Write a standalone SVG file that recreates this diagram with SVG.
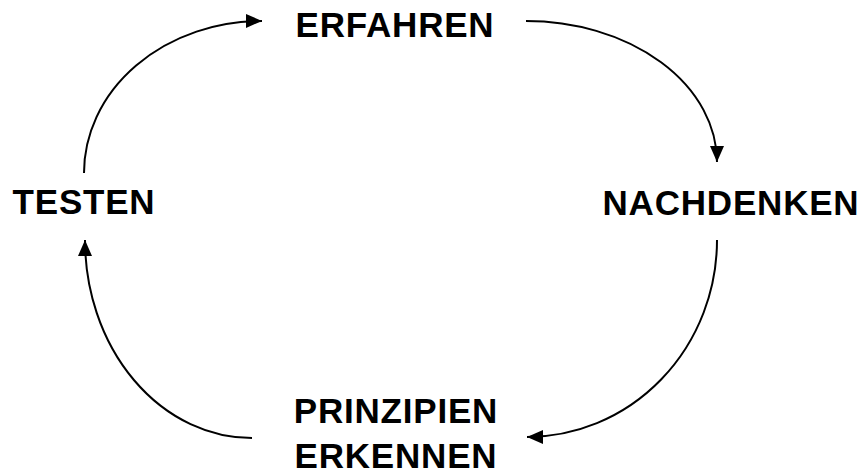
<svg xmlns="http://www.w3.org/2000/svg" width="864" height="474" viewBox="0 0 864 474">
  <style>
    .label { font-family: "Liberation Sans", Arial, sans-serif; font-weight: bold; font-size: 35px; fill: #000; text-anchor: middle; letter-spacing: 0.8px; }
    .arc { fill: none; stroke: #000; stroke-width: 2; }
  </style>
  <defs>
    <marker id="head" viewBox="0 0 16 14" refX="16" refY="7" markerWidth="16" markerHeight="14" markerUnits="userSpaceOnUse" orient="auto">
      <path d="M0,0 L16,7 L0,14 Z" fill="#000"/>
    </marker>
  </defs>
  <rect width="864" height="474" fill="#fff"/>

  <!-- cycle connectors -->
  <g id="connectors">
    <path class="arc" d="M84,173 A178,152 0 0 1 262,21" marker-end="url(#head)"/>
    <path class="arc" d="M526,21 A191,141 0 0 1 717,162" marker-end="url(#head)"/>
    <path class="arc" d="M717,240 A190,197 0 0 1 527,437" marker-end="url(#head)"/>
    <path class="arc" d="M252,438 A167,198 0 0 1 85,240" marker-end="url(#head)"/>
  </g>

  <g id="erfahren">
    <text class="label" x="395" y="37">ERFAHREN</text>
  </g>
  <g id="nachdenken">
    <text class="label" x="731" y="215">NACHDENKEN</text>
  </g>
  <g id="prinzipien-erkennen">
    <text class="label" x="396" y="423">PRINZIPIEN</text>
    <text class="label" x="396" y="468">ERKENNEN</text>
  </g>
  <g id="testen">
    <text class="label" x="84" y="214">TESTEN</text>
  </g>
</svg>
